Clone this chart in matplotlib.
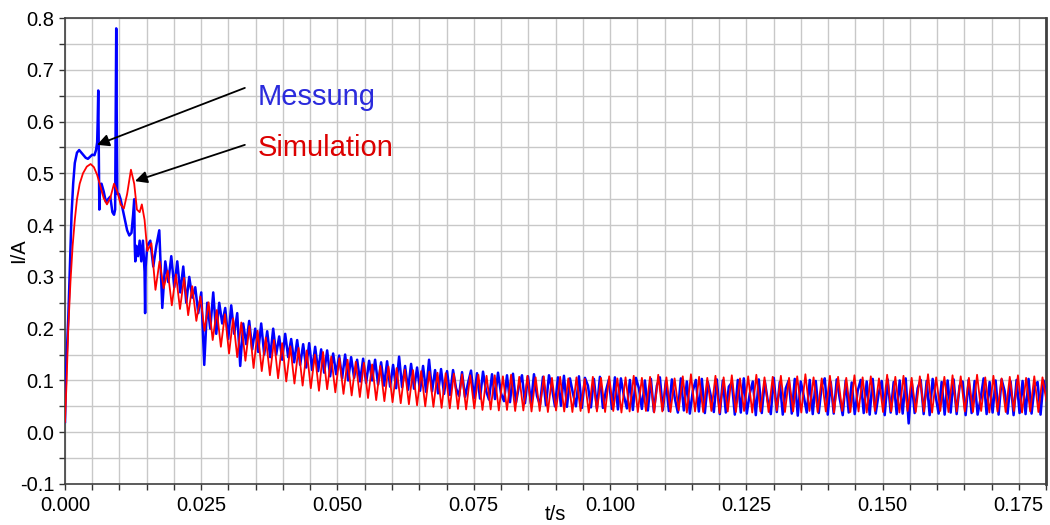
import numpy as np
import matplotlib.pyplot as plt
from matplotlib.ticker import MultipleLocator, FormatStrFormatter

plt.rcParams['font.family'] = ['Liberation Sans', 'DejaVu Sans']
plt.rcParams['axes.unicode_minus'] = False

# Einschaltvorgang (0 ... 0.015 s), Stuetzstellen
t_mess_start = [0.0, 0.0002, 0.0004, 0.0006, 0.0009, 0.0012, 0.0015, 0.0018, 0.0022, 0.0026,
                0.0030, 0.0034, 0.0038, 0.0042, 0.0046, 0.0050, 0.0054, 0.0057, 0.0059, 0.0060,
                0.0061, 0.0062, 0.0063, 0.0064, 0.0067, 0.0071, 0.0075, 0.0079, 0.0083, 0.0087,
                0.0090, 0.0092, 0.0093, 0.0094, 0.0095, 0.0096, 0.0099, 0.0102, 0.0106, 0.0110,
                0.0114, 0.0118, 0.0122, 0.0125, 0.0127, 0.0128, 0.0129, 0.0131, 0.0134, 0.0137,
                0.0140, 0.0143, 0.0146, 0.0147, 0.0148, 0.0151]
i_mess_start = [0.02, 0.12, 0.17, 0.22, 0.32, 0.42, 0.48, 0.52, 0.54, 0.545,
                0.54, 0.535, 0.53, 0.528, 0.532, 0.536, 0.535, 0.545, 0.56, 0.60,
                0.66, 0.555, 0.43, 0.46, 0.48, 0.465, 0.445, 0.45, 0.455, 0.425,
                0.42, 0.43, 0.60, 0.78, 0.60, 0.46, 0.46, 0.45, 0.43, 0.41,
                0.39, 0.38, 0.385, 0.42, 0.45, 0.36, 0.33, 0.36, 0.34, 0.37,
                0.33, 0.37, 0.31, 0.23, 0.32, 0.36]

t_sim_start = [0.0, 0.0003, 0.0006, 0.0010, 0.0014, 0.0018, 0.0022, 0.0027, 0.0033, 0.0040,
               0.0047, 0.0053, 0.0059, 0.0065, 0.0071, 0.0077, 0.0083, 0.0090, 0.0096, 0.0102,
               0.0108, 0.0114, 0.0121, 0.0127, 0.0132, 0.0137, 0.0141, 0.0146, 0.0151]
i_sim_start = [0.02, 0.10, 0.20, 0.29, 0.36, 0.41, 0.45, 0.48, 0.50, 0.513,
               0.518, 0.512, 0.497, 0.475, 0.452, 0.440, 0.452, 0.480, 0.465, 0.440,
               0.432, 0.460, 0.507, 0.480, 0.430, 0.425, 0.440, 0.410, 0.350]

dt_mess = 0.00055
i_mess_osc = [
    0.37, 0.32, 0.36, 0.39, 0.24, 0.33, 0.29, 0.34, 0.28, 0.33,
    0.27, 0.32, 0.25, 0.30, 0.26, 0.28, 0.23, 0.27, 0.13, 0.25,
    0.20, 0.27, 0.19, 0.25, 0.21, 0.24, 0.18, 0.245, 0.19, 0.23,
    0.128, 0.21, 0.17, 0.215, 0.16, 0.20, 0.155, 0.21, 0.15, 0.195,
    0.145, 0.20, 0.15, 0.185, 0.14, 0.19, 0.145, 0.18, 0.135, 0.178,
    0.13, 0.17, 0.125, 0.172, 0.12, 0.165, 0.118, 0.16, 0.115, 0.158,
    0.108, 0.152, 0.112, 0.148, 0.104, 0.15, 0.10, 0.145, 0.105, 0.14,
    0.098, 0.142, 0.095, 0.138, 0.10, 0.14, 0.092, 0.135, 0.09, 0.137,
    0.088, 0.13, 0.085, 0.146, 0.087, 0.128, 0.082, 0.132, 0.084, 0.125,
    0.08, 0.128, 0.078, 0.14, 0.079, 0.12, 0.075, 0.122, 0.074, 0.118,
    0.072, 0.12, 0.085, 0.07, 0.116, 0.068, 0.095, 0.119, 0.066, 0.114,
    0.065, 0.117, 0.08, 0.063, 0.112, 0.064, 0.115, 0.075, 0.06, 0.11,
    0.058, 0.113, 0.057, 0.09, 0.11, 0.056, 0.108, 0.055, 0.112, 0.07,
    0.053, 0.107, 0.052, 0.11, 0.085, 0.05, 0.106, 0.051, 0.109, 0.049,
    0.104, 0.075, 0.05, 0.108, 0.047, 0.105, 0.09, 0.048, 0.103, 0.046,
    0.107, 0.047, 0.08, 0.102, 0.045, 0.106, 0.044, 0.104, 0.07, 0.046,
    0.101, 0.043, 0.105, 0.085, 0.045, 0.1, 0.042, 0.103, 0.04, 0.09,
    0.106, 0.043, 0.099, 0.041, 0.102, 0.065, 0.038, 0.104, 0.042, 0.098,
    0.036, 0.08, 0.101, 0.04, 0.103, 0.037, 0.097, 0.07, 0.039, 0.102,
    0.035, 0.1, 0.038, 0.088, 0.096, 0.034, 0.101, 0.038, 0.104, 0.036,
    0.075, 0.098, 0.033, 0.102, 0.037, 0.099, 0.06, 0.035, 0.105, 0.039,
    0.097, 0.034, 0.085, 0.1, 0.036, 0.103, 0.032, 0.098, 0.07, 0.038,
    0.101, 0.035, 0.099, 0.037, 0.09, 0.104, 0.034, 0.097, 0.036, 0.102,
    0.065, 0.033, 0.1, 0.038, 0.096, 0.035, 0.08, 0.101, 0.037, 0.098,
    0.034, 0.103, 0.036, 0.075, 0.099, 0.033, 0.102, 0.038, 0.097, 0.035,
    0.1, 0.036, 0.104, 0.017, 0.098, 0.037, 0.085, 0.101, 0.035, 0.099,
    0.033, 0.103, 0.07, 0.036, 0.097, 0.034, 0.1, 0.038, 0.102, 0.035,
    0.09, 0.098, 0.033, 0.101, 0.037, 0.099, 0.034, 0.065, 0.104, 0.035,
    0.097, 0.038, 0.1, 0.034, 0.102, 0.08, 0.036, 0.098, 0.033, 0.101,
    0.037, 0.099, 0.035, 0.103, 0.036, 0.088, 0.097, 0.034, 0.1, 0.07,
]

dt_sim = 0.00075
i_sim_osc = [
    0.365, 0.275, 0.330, 0.278, 0.312, 0.245, 0.305, 0.238, 0.298, 0.226,
    0.282, 0.215, 0.262, 0.196, 0.251, 0.178, 0.236, 0.165, 0.228, 0.152,
    0.220, 0.145,
    0.212, 0.138, 0.205, 0.124, 0.196, 0.118, 0.183, 0.110, 0.178, 0.104,
    0.172, 0.098, 0.166, 0.094, 0.163, 0.090, 0.158, 0.085, 0.150, 0.080,
    0.155, 0.083,
    0.146, 0.077, 0.143, 0.074, 0.140, 0.071, 0.136, 0.068, 0.134, 0.066,
    0.131, 0.062, 0.128, 0.060, 0.127, 0.058, 0.124, 0.056, 0.121, 0.054,
    0.120, 0.052, 0.118, 0.050, 0.117, 0.049, 0.115, 0.047, 0.114, 0.046,
    0.113, 0.045, 0.112, 0.044, 0.110, 0.046, 0.111, 0.043, 0.109, 0.044,
    0.110, 0.042, 0.108, 0.043, 0.111, 0.041, 0.107, 0.042, 0.109, 0.040,
    0.106, 0.041, 0.108, 0.039, 0.105, 0.042, 0.107, 0.040, 0.104, 0.039,
    0.106, 0.041, 0.103, 0.038, 0.107, 0.040, 0.105, 0.039, 0.108, 0.041,
    0.104, 0.038, 0.106, 0.040, 0.109, 0.039, 0.105, 0.041, 0.107, 0.038,
    0.111, 0.040, 0.106, 0.039, 0.104, 0.042, 0.108, 0.038, 0.112, 0.040,
    0.107, 0.039, 0.105, 0.041, 0.109, 0.037, 0.106, 0.040, 0.110, 0.039,
    0.104, 0.041, 0.108, 0.038, 0.111, 0.040, 0.106, 0.039, 0.107, 0.042,
    0.109, 0.039, 0.105, 0.040, 0.108, 0.038, 0.112, 0.041, 0.106, 0.039,
    0.104, 0.040, 0.109, 0.038, 0.107, 0.041, 0.105, 0.039, 0.110, 0.040,
    0.106, 0.038, 0.108, 0.041, 0.104, 0.039, 0.111, 0.040, 0.107, 0.038,
    0.109, 0.041, 0.105, 0.039, 0.108, 0.040, 0.112, 0.038, 0.106, 0.041,
    0.107, 0.039, 0.110, 0.040,
    0.108, 0.040, 0.105, 0.039, 0.111, 0.041, 0.106, 0.038, 0.109, 0.040,
    0.104, 0.039, 0.107, 0.041, 0.110, 0.038, 0.105, 0.040, 0.108, 0.039,
    0.106, 0.060,
]

# Zeitachsen zusammensetzen
t_mess = np.concatenate([t_mess_start,
                         t_mess_start[-1] + dt_mess * np.arange(1, len(i_mess_osc) + 1)])
i_mess = np.concatenate([i_mess_start, i_mess_osc])
t_sim = np.concatenate([t_sim_start,
                        t_sim_start[-1] + dt_sim * np.arange(1, len(i_sim_osc) + 1)])
i_sim = np.concatenate([i_sim_start, i_sim_osc])

fig = plt.figure(figsize=(10.5, 5.25), dpi=100)
ax = fig.add_axes([0.0619, 0.0781, 0.9343, 0.8876])

ax.plot(t_mess, i_mess, color='#0000ff', linewidth=1.8, zorder=3)
ax.plot(t_sim, i_sim, color='#ff0000', linewidth=1.3, zorder=4)

ax.set_xlim(0, 0.18)
ax.set_ylim(-0.1, 0.8)

ax.xaxis.set_major_locator(MultipleLocator(0.025))
ax.xaxis.set_minor_locator(MultipleLocator(0.005))
ax.yaxis.set_major_locator(MultipleLocator(0.1))
ax.yaxis.set_minor_locator(MultipleLocator(0.05))
ax.xaxis.set_major_formatter(FormatStrFormatter('%.3f'))
ax.yaxis.set_major_formatter(FormatStrFormatter('%.1f'))

ax.grid(True, which='both', color='#c8c8c8', linewidth=1.0, zorder=0)
ax.set_axisbelow(True)
ax.tick_params(which='both', direction='out', length=4, width=1, labelsize=14.5,
               color='#333333')
ax.tick_params(axis='x', pad=5)

for side in ['left', 'bottom', 'top']:
    ax.spines[side].set_color('#404040')
    ax.spines[side].set_linewidth(1.2)
ax.spines['right'].set_color('#404040')
ax.spines['right'].set_linewidth(2.0)

ax.set_xlabel('t/s', fontsize=14.5)
ax.set_ylabel('I/A', fontsize=14.5)
ax.xaxis.set_label_coords(0.5, -0.044)
ax.yaxis.set_label_coords(-0.038, 0.5)

# Beschriftung mit Pfeilen
ax.annotate('', xy=(0.00587, 0.555), xytext=(0.0330, 0.665),
            arrowprops=dict(arrowstyle='-|>', color='black', lw=1.3,
                            mutation_scale=18, shrinkA=0, shrinkB=0), zorder=6)
ax.annotate('', xy=(0.01284, 0.485), xytext=(0.0330, 0.555),
            arrowprops=dict(arrowstyle='-|>', color='black', lw=1.3,
                            mutation_scale=18, shrinkA=0, shrinkB=0), zorder=6)
ax.text(0.0354, 0.6475, 'Messung', color='#2b2bdc', fontsize=21, ha='left', va='center')
ax.text(0.0354, 0.549, 'Simulation', color='#dc0000', fontsize=21, ha='left', va='center')

fig.savefig('out.png', dpi=100)
